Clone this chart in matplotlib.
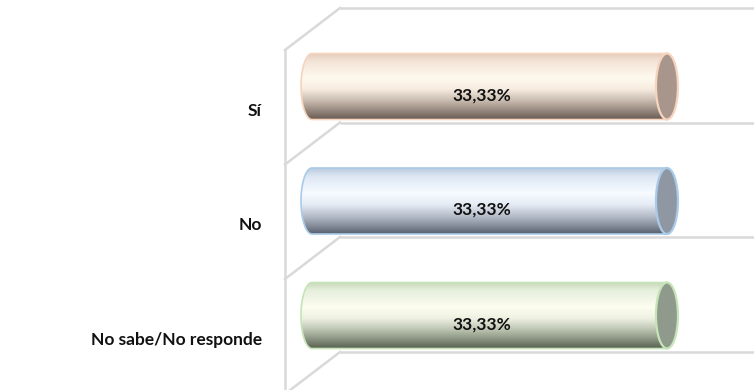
import numpy as np
import matplotlib
matplotlib.use("Agg")
import matplotlib.pyplot as plt
from matplotlib.path import Path
from matplotlib.patches import PathPatch, Ellipse
from matplotlib.colors import LinearSegmentedColormap
from matplotlib.transforms import ScaledTranslation

# ---- data ----
categories = ["Sí", "No", "No sabe/No responde"]
values = [33.33, 33.33, 33.33]

# ---- styles ----
grad_stops = [
    ["#e3cbbb", "#f3e3d7", "#fffaee", "#f6ebdf", "#c9bbb0", "#9a8c82", "#6a5d55"],
    ["#b9c9dc", "#dde7f3", "#f7fbff", "#e6ecf5", "#b9c0cc", "#8b93a0", "#59606d"],
    ["#c6d8b9", "#e6efdc", "#fdfdf0", "#eef2e2", "#bcc4b2", "#8d9584", "#5a6251"],
]
stop_pos = [0.0, 0.12, 0.38, 0.55, 0.72, 0.86, 1.0]
cap_colors = ["#a8968c", "#8f97a3", "#8f998c"]
edge_colors = ["#f6d4be", "#a9cbe9", "#c5e4b8"]

W, H, DPI = 754, 390, 100
fig = plt.figure(figsize=(W / DPI, H / DPI), dpi=DPI)
fig.patch.set_facecolor("white")

# background walls (pixel space decoration)
bg = fig.add_axes([0, 0, 1, 1], zorder=0)
bg.set_xlim(0, W)
bg.set_ylim(H, 0)
bg.axis("off")
grid_c = "#d9d9d9"
for gy in [8, 122.5, 237, 352]:
    bg.plot([340, W], [gy, gy], color=grid_c, lw=1.8, solid_capstyle="butt")
    bg.plot([340, 285], [gy, gy + 42], color=grid_c, lw=1.8)
bg.plot([285, 285], [50, H], color=grid_c, lw=1.8)

# main axes: x in percent, y in category index
px_per_unit = 10.65
row_px = 114.5
x0_px = 312          # pixel of value 0
xmin, xmax = -3, 40
ax_left_px = x0_px + xmin * px_per_unit
ax_w_px = (xmax - xmin) * px_per_unit
center_mid_px = 201
ax_top_px = center_mid_px - 1.5 * row_px
ax = fig.add_axes([ax_left_px / W, (H - (ax_top_px + 3 * row_px)) / H,
                   ax_w_px / W, 3 * row_px / H], zorder=1)
ax.patch.set_alpha(0)
ax.set_xlim(xmin, xmax)
ax.set_ylim(-0.5, 2.5)
for s in ax.spines.values():
    s.set_visible(False)
ax.set_xticks([])

n = len(categories)
h = 66 / row_px
w = 22 / px_per_unit
for i, (cat, v) in enumerate(zip(categories, values)):
    yc = n - 1 - i
    th = np.linspace(np.pi / 2, 3 * np.pi / 2, 60)
    xs = list((w / 2) * np.cos(th)) + [v, v]
    ys = list(yc + (h / 2) * np.sin(th)) + [yc - h / 2, yc + h / 2]
    verts = list(zip(xs, ys)) + [(xs[0], ys[0])]
    codes = [Path.MOVETO] + [Path.LINETO] * (len(verts) - 2) + [Path.CLOSEPOLY]
    body = PathPatch(Path(verts, codes), facecolor="none",
                     edgecolor=edge_colors[i], lw=1.2, zorder=3)
    ax.add_patch(body)
    cmap = LinearSegmentedColormap.from_list(
        f"g{i}", list(zip(stop_pos, grad_stops[i])))
    grad = np.linspace(0, 1, 256).reshape(-1, 1)
    im = ax.imshow(grad, cmap=cmap, aspect="auto",
                   extent=[-w / 2, v, yc - h / 2, yc + h / 2],
                   origin="upper", zorder=2, interpolation="bilinear")
    im.set_clip_path(body)
    cap = Ellipse((v, yc), w, h, facecolor=cap_colors[i],
                  edgecolor=edge_colors[i], lw=1.6, zorder=4)
    ax.add_patch(cap)
    lab = f"{v:.2f}%".replace(".", ",")
    ax.text(v / 2, yc, lab, ha="center", va="center",
            fontsize=12.5, fontweight="bold", family=["Lato", "DejaVu Sans"],
            color="#111111", zorder=5,
            transform=ax.transData + ScaledTranslation(-0.08, -0.09, fig.dpi_scale_trans))

ax.set_yticks([n - 1 - i for i in range(n)])
ax.set_yticklabels(categories, fontsize=12.5, fontweight="bold",
                   family=["Lato", "DejaVu Sans"], color="#111111")
label_right_px = 262
ax.tick_params(axis="y", length=0, pad=(ax_left_px - label_right_px) * 72 / DPI)
for t in ax.get_yticklabels():
    t.set_transform(t.get_transform() + ScaledTranslation(0, -0.23, fig.dpi_scale_trans))

fig.savefig("out.png", dpi=DPI, facecolor="white")
